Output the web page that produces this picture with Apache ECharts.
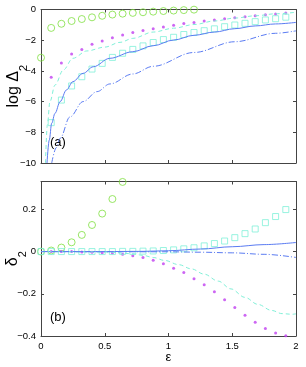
<!DOCTYPE html>
<html><head><meta charset="utf-8">
<script src="https://cdn.jsdelivr.net/npm/echarts@6/dist/echarts.min.js"></script>
<style>html,body{margin:0;padding:0;background:#fff}#c{width:306px;height:367px}</style>
</head><body><div id="c"></div>
<script>
// epsilon sample points of the marker series
const eps = [0,0.08,0.16,0.24,0.32,0.40,0.48,0.56,0.64,0.72,0.80,0.88,0.96,1.04,1.12,1.20,1.28,1.36,1.44,1.52,1.60,1.68,1.76,1.84,1.92];

// ---- panel (a): log Delta_2 ----
const greenA_x = eps.slice(0,16);
const greenA_y = [-3.14,-1.2,-0.93,-0.75,-0.62,-0.51,-0.41,-0.33,-0.27,-0.22,-0.18,-0.14,-0.10,-0.07,-0.04,-0.01];
const magA_x = eps.slice(1);
const magA_y = [-4.42,-3.49,-2.9,-2.6,-2.27,-2.05,-1.84,-1.66,-1.5,-1.36,-1.25,-1.14,-1.03,-0.92,-0.84,-0.75,-0.68,-0.60,-0.53,-0.47,-0.40,-0.35,-0.29,-0.23];
const sqA_x = eps.slice(1);
const sqA_y = [-7.37,-5.9,-4.98,-4.38,-3.88,-3.51,-3.12,-2.85,-2.6,-2.37,-2.15,-1.96,-1.81,-1.63,-1.50,-1.38,-1.26,-1.12,-1.01,-0.9,-0.79,-0.68,-0.6,-0.5];
const solidA_x = [0.047,0.065,0.084,0.11,0.15,0.2,0.25,0.33,0.41,0.54,0.72,0.88,1.04,1.2,1.36,1.52,1.68,1.84,2.0];
const solidA_y = [-10,-8.5,-7.41,-6.76,-6.0,-5.24,-4.7,-4.16,-3.73,-3.18,-2.75,-2.36,-1.99,-1.68,-1.47,-1.25,-1.07,-0.94,-0.84];
const dashA_x = [0.035,0.05,0.07,0.11,0.175,0.25,0.36,0.5,0.62,0.72,0.88,1.04,1.2,1.36,1.52,1.68,1.84,2.0];
const dashA_y = [-10,-7.5,-6.0,-4.92,-3.94,-3.18,-2.7,-2.45,-2.14,-1.88,-1.47,-1.22,-0.98,-0.75,-0.56,-0.41,-0.28,-0.18];
const ddA_x = [0.084,0.12,0.149,0.227,0.33,0.44,0.54,0.72,0.88,1.2,1.52,1.84,2.0];
const ddA_y = [-10,-9.0,-8.4,-7.0,-6.0,-5.35,-4.85,-4.2,-3.7,-2.8,-2.1,-1.55,-1.39];

// ---- panel (b): delta_2 ----
const greenB_x = eps.slice(0,9);
const greenB_y = [0,0.005,0.019,0.044,0.079,0.126,0.18,0.249,0.33];
const magB_x = eps.slice(1);
const magB_y = [0,0,0,-0.002,-0.003,-0.005,-0.007,-0.013,-0.02,-0.028,-0.041,-0.058,-0.079,-0.099,-0.129,-0.157,-0.19,-0.228,-0.265,-0.302,-0.335,-0.364,-0.386,-0.399];
const sqB_x = eps;
const sqB_y = [0,0,0,0,0,0,0,0,0.001,0.001,0.002,0.003,0.005,0.008,0.013,0.018,0.027,0.038,0.05,0.066,0.085,0.107,0.137,0.166,0.199];
const solidB_x = [0,0.5,0.8,1.0,1.25,1.5,1.75,2.0];
const solidB_y = [0,0,0.001,0.004,0.012,0.023,0.033,0.043];
const dashB_x = [0,0.5,0.72,0.8,0.88,0.97,1.08,1.18,1.28,1.39,1.49,1.6,1.7,1.81,1.89,1.97,2.0];
const dashB_y = [0,-0.002,-0.01,-0.018,-0.028,-0.042,-0.062,-0.082,-0.107,-0.14,-0.177,-0.217,-0.25,-0.279,-0.294,-0.297,-0.295];
const ddB_x = [0,1.0,1.25,1.5,1.75,2.0];
const ddB_y = [0,-0.001,-0.003,-0.006,-0.013,-0.028];

const GREEN='#80e040', MAG='#c040f0', CYAN='#80f0d8', BLUE='#5b7cf2';
const FONT='Liberation Sans, Arial, sans-serif';
const TICKFS=9.5;
const zip=(a,b)=>a.map((v,i)=>[v,b[i]]);
const fmtNum=v=>String(v).replace('-','\u2212');

function xAx(grid,pos,labels,name){
  return {type:'value',gridIndex:grid,position:pos,min:0,max:2,interval:0.5,
    axisLine:{show:true,onZero:false,lineStyle:{color:'#444',width:1}},
    axisTick:{show:true,inside:true,length:3,lineStyle:{color:'#444'}},
    splitLine:{show:false},
    axisLabel:{show:labels,color:'#000',fontSize:TICKFS,fontFamily:FONT,margin:5,formatter:v=>fmtNum(v)},
    name:name||'',nameLocation:'middle',nameGap:15,nameMoveOverlap:false,
    nameTextStyle:{color:'#000',fontSize:13,fontFamily:FONT}};
}
function yAx(grid,pos,min,max,interval,labels,name,gap){
  return {type:'value',gridIndex:grid,position:pos,min:min,max:max,interval:interval,
    axisLine:{show:true,onZero:false,lineStyle:{color:'#444',width:1}},
    axisTick:{show:true,inside:true,length:3,lineStyle:{color:'#444'}},
    splitLine:{show:false},
    axisLabel:{show:labels,color:'#000',fontSize:TICKFS,fontFamily:FONT,margin:5,showMaxLabel:max===0,
      formatter:v=>fmtNum(Math.round(v*100)/100)},
    name:name||'',nameLocation:'middle',nameGap:gap||0,nameRotate:90,nameMoveOverlap:false,
    nameTextStyle:{color:'#000',fontSize:16,fontFamily:FONT,
      rich:{s:{fontSize:11,fontFamily:FONT,color:'#000',verticalAlign:'bottom',padding:[0,0,-7,0]}}}};
}

function mk(xi,yi,type,x,y,opt){
  if(type==='line'){
    return Object.assign({type:'line',xAxisIndex:xi,yAxisIndex:yi,data:zip(x,y),symbol:'none',
      smooth:0.35,smoothMonotone:'x',animation:false,clip:true},opt);
  }
  return Object.assign({type:'scatter',xAxisIndex:xi,yAxisIndex:yi,data:zip(x,y),animation:false,clip:true},opt);
}
const circ=c=>({symbol:'circle',symbolSize:7,itemStyle:{color:'rgba(0,0,0,0)',borderColor:c,borderWidth:1}});
const sq=c=>({symbol:'rect',symbolSize:6,itemStyle:{color:'rgba(0,0,0,0)',borderColor:c,borderWidth:1}});
const dot=c=>({symbol:'circle',symbolSize:3,itemStyle:{color:c}});
const solid={lineStyle:{color:BLUE,width:1,type:'solid'}};
const dashed={lineStyle:{color:CYAN,width:1,type:[4,3]}};
const dashdot={lineStyle:{color:BLUE,width:1,type:[6,2,1,2]}};

const option={
  animation:false,
  backgroundColor:'#fff',
  grid:[{left:41,right:10,top:9.5,height:153.5,outerBoundsMode:'none',containLabel:false},
        {left:41,right:10,top:181.5,height:154.5,outerBoundsMode:'none',containLabel:false}],
  xAxis:[xAx(0,'bottom',false),xAx(0,'top',false),xAx(1,'bottom',true,'\u03b5'),xAx(1,'top',false)],
  yAxis:[yAx(0,'left',-10,0,2,true,'log \u0394{s|2}',19),yAx(0,'right',-10,0,2,false),
         yAx(1,'left',-0.4,0.332,0.2,true,'\u03b4{s|2}',20),yAx(1,'right',-0.4,0.332,0.2,false)],
  series:[
    mk(0,0,'line',solidA_x,solidA_y,solid),
    mk(0,0,'line',dashA_x,dashA_y,dashed),
    mk(0,0,'line',ddA_x,ddA_y,dashdot),
    mk(0,0,'scatter',greenA_x,greenA_y,circ(GREEN)),
    mk(0,0,'scatter',magA_x,magA_y,dot(MAG)),
    mk(0,0,'scatter',sqA_x,sqA_y,sq(CYAN)),
    mk(2,2,'line',solidB_x,solidB_y,solid),
    mk(2,2,'line',dashB_x,dashB_y,dashed),
    mk(2,2,'line',ddB_x,ddB_y,dashdot),
    mk(2,2,'scatter',greenB_x,greenB_y,circ(GREEN)),
    mk(2,2,'scatter',magB_x,magB_y,dot(MAG)),
    mk(2,2,'scatter',sqB_x,sqB_y,sq(CYAN))
  ],
  graphic:[
    {type:'text',left:50,top:136,style:{text:'(a)',fontSize:13,fontFamily:FONT,fill:'#000'}},
    {type:'text',left:50,top:311,style:{text:'(b)',fontSize:13,fontFamily:FONT,fill:'#000'}}
  ]
};
const chart=echarts.init(document.getElementById('c'),null,{renderer:'canvas'});
chart.setOption(option);
</script></body></html>
